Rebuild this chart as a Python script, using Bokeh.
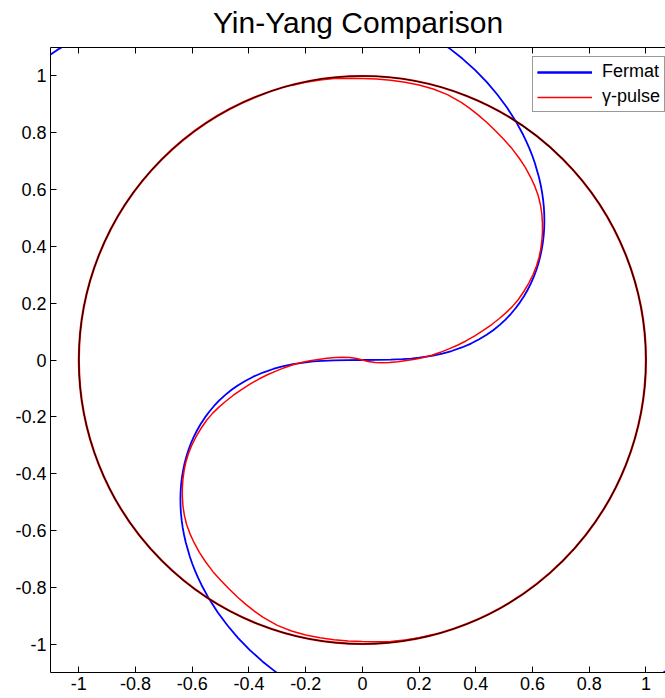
from bokeh.plotting import figure
from bokeh.models import Range1d, LinearAxis, FixedTicker, Legend, LegendItem, CustomLabelingPolicy
from bokeh.embed import file_html
from bokeh.resources import INLINE

# ---- data ----
circle_x = [0.0]
circle_y = [0.0]
circle_d = [2.0]

fermat_pos_x = [0.0, 0.05, 0.1, 0.1414, 0.1731, 0.1998, 0.2445, 0.2819, 0.3146, 0.3508, 0.3830, 0.4119,
                0.4383, 0.4624, 0.4845, 0.5047, 0.5233, 0.5402, 0.5557, 0.5698, 0.5825, 0.5939, 0.6040,
                0.6129, 0.6205, 0.6270, 0.6322, 0.6363, 0.6393, 0.6411, 0.6418, 0.6414, 0.6399, 0.6373,
                0.6337, 0.6289, 0.6231, 0.6085, 0.5996, 0.5897, 0.5788, 0.5670, 0.5403, 0.5099, 0.4757,
                0.4381, 0.3969, 0.3525, 0.3050, 0.2545, 0.2011, -0.8729, -0.9423, -1.0105, -1.0773,
                -1.1424, -1.2056]
fermat_pos_y = [0.0, 0.0001, 0.001, 0.0028, 0.0052, 0.0080, 0.0147, 0.0226, 0.0316, 0.0441, 0.0579, 0.0728,
                0.0888, 0.1058, 0.1237, 0.1424, 0.1619, 0.1820, 0.2029, 0.2243, 0.2463, 0.2688, 0.2918,
                0.3152, 0.3390, 0.3632, 0.3876, 0.4124, 0.4374, 0.4626, 0.4879, 0.5134, 0.5390, 0.5646,
                0.5903, 0.6160, 0.6416, 0.6926, 0.7180, 0.7431, 0.7681, 0.7928, 0.8415, 0.8888, 0.9347,
                0.9788, 1.0210, 1.0610, 1.0986, 1.1337, 1.1660, 1.1992, 1.1671, 1.1310, 1.0907,
                1.0464, 0.9982]

fermat_neg_x = [0.0, -0.05, -0.1, -0.1414, -0.1731, -0.1998, -0.2445, -0.2819, -0.3146, -0.3508, -0.3830, -0.4119,
                -0.4383, -0.4624, -0.4845, -0.5047, -0.5233, -0.5402, -0.5557, -0.5698, -0.5825, -0.5939, -0.6040,
                -0.6129, -0.6205, -0.6270, -0.6322, -0.6363, -0.6393, -0.6411, -0.6418, -0.6414, -0.6399, -0.6373,
                -0.6337, -0.6289, -0.6231, -0.6085, -0.5996, -0.5897, -0.5788, -0.5670, -0.5403, -0.5099, -0.4757,
                -0.4381, -0.3969, -0.3525, -0.3050, -0.2545, -0.2011, 0.8729, 0.9423, 1.0105, 1.0773,
                1.1424, 1.2056]
fermat_neg_y = [0.0, -0.0001, -0.001, -0.0028, -0.0052, -0.0080, -0.0147, -0.0226, -0.0316, -0.0441, -0.0579, -0.0728,
                -0.0888, -0.1058, -0.1237, -0.1424, -0.1619, -0.1820, -0.2029, -0.2243, -0.2463, -0.2688, -0.2918,
                -0.3152, -0.3390, -0.3632, -0.3876, -0.4124, -0.4374, -0.4626, -0.4879, -0.5134, -0.5390, -0.5646,
                -0.5903, -0.6160, -0.6416, -0.6926, -0.7180, -0.7431, -0.7681, -0.7928, -0.8415, -0.8888, -0.9347,
                -0.9788, -1.0210, -1.0610, -1.0986, -1.1337, -1.1660, -1.1992, -1.1671, -1.1310, -1.0907,
                -1.0464, -0.9982]

pulse_x = [-0.25, -0.20, -0.15, -0.10, -0.05, 0.00, 0.05, 0.10, 0.15, 0.20, 0.25, 0.30, 0.35, 0.38, 0.41,
           0.44, 0.47, 0.50, 0.527, 0.552, 0.575, 0.593, 0.608, 0.620, 0.628, 0.633, 0.635, 0.635, 0.633,
           0.629, 0.623, 0.614, 0.602, 0.587, 0.570, 0.550, 0.528, 0.505, 0.483, 0.455, 0.425, 0.395, 0.365,
           0.335, 0.305, 0.275, 0.245, 0.215, 0.185, 0.155, 0.125, 0.095, 0.070, 0.045, 0.020, 0.0,
           -0.020, -0.045, -0.070, -0.095, -0.125, -0.155, -0.185, -0.215, -0.245, -0.275, -0.305, -0.335,
           -0.365, -0.395, -0.425, -0.455, -0.483, -0.505, -0.528, -0.550, -0.570, -0.587, -0.602, -0.614,
           -0.623, -0.629, -0.633, -0.635, -0.635, -0.633, -0.628, -0.620, -0.608, -0.593, -0.575, -0.552,
           -0.527, -0.50, -0.47, -0.44, -0.41, -0.38, -0.35, -0.30, -0.25, -0.20, -0.15, -0.10, -0.05, 0.00,
           0.05, 0.10, 0.15, 0.20, 0.25]
pulse_y = [0.966, 0.978, 0.986, 0.991, 0.992, 0.991, 0.989, 0.985, 0.978, 0.968, 0.954, 0.934, 0.906, 0.885, 0.861,
           0.835, 0.806, 0.775, 0.745, 0.712, 0.677, 0.644, 0.612, 0.579, 0.546, 0.513, 0.480, 0.450, 0.420,
           0.390, 0.361, 0.331, 0.301, 0.271, 0.242, 0.213, 0.187, 0.165, 0.146, 0.124, 0.103, 0.084, 0.067,
           0.052, 0.039, 0.027, 0.017, 0.009, 0.003, -0.002, -0.006, -0.009, -0.010, -0.009, -0.005, 0.0,
           0.005, 0.009, 0.010, 0.009, 0.006, 0.002, -0.003, -0.009, -0.017, -0.027, -0.039, -0.052,
           -0.067, -0.084, -0.103, -0.124, -0.146, -0.165, -0.187, -0.213, -0.242, -0.271, -0.301, -0.331,
           -0.361, -0.390, -0.420, -0.450, -0.480, -0.513, -0.546, -0.579, -0.612, -0.644, -0.677, -0.712,
           -0.745, -0.775, -0.806, -0.835, -0.861, -0.885, -0.906, -0.934, -0.954, -0.968, -0.978, -0.985, -0.989, -0.991,
           -0.992, -0.991, -0.986, -0.978, -0.966]

tick_values = [-1, -0.8, -0.6, -0.4, -0.2, 0, 0.2, 0.4, 0.6, 0.8, 1]
tick_labels = ["-1", "-0.8", "-0.6", "-0.4", "-0.2", "0", "0.2", "0.4", "0.6", "0.8", "1"]

FONT = "Liberation Sans"

p = figure(width=665, height=698, output_backend="svg", toolbar_location=None,
           x_range=Range1d(-1.1, 1.069), y_range=Range1d(-1.1, 1.1),
           min_border_left=50, min_border_right=0, min_border_top=47, min_border_bottom=26)
p.outline_line_color = None
p.grid.visible = False
p.background_fill_color = "white"
p.border_fill_color = "white"

p.title.text = "Yin-Yang Comparison"
p.title.text_font = FONT
p.title.text_font_size = "30px"
p.title.text_font_style = "normal"
p.title.align = "center"
p.title.vertical_align = "top"
p.title.text_color = "black"
p.title.standoff = 6

overrides = {v: s for v, s in zip(tick_values, tick_labels)}

def style_axis(ax):
    ax.ticker = FixedTicker(ticks=tick_values)
    ax.major_label_overrides = overrides
    ax.major_tick_in = 6
    ax.major_tick_out = 0
    ax.minor_tick_line_color = None
    ax.axis_line_color = "black"
    ax.major_tick_line_color = "black"
    ax.major_label_text_font = FONT
    ax.major_label_text_color = "black"
    ax.major_label_text_font_size = "18px"
    ax.major_label_standoff = 4

style_axis(p.xaxis[0])
style_axis(p.yaxis[0])

top_axis = LinearAxis()
style_axis(top_axis)
top_axis.major_label_standoff = 0
top_axis.major_label_text_font_size = "1px"
top_axis.major_label_policy = CustomLabelingPolicy(code="""
if (typeof indices.unset === "function") {
    for (const i of Array.from(indices)) { indices.unset(i) }
    return indices
}
return []
""")
p.add_layout(top_axis, "above")

r_pos = p.line(fermat_pos_x, fermat_pos_y, line_color="#0000FF", line_width=1.8)
r_neg = p.line(fermat_neg_x, fermat_neg_y, line_color="#0000FF", line_width=1.8)
p.ellipse(x=circle_x, y=circle_y, width=circle_d, height=circle_d, fill_color=None,
          line_color="#FF0000", line_width=2.2)
r_pulse = p.line(pulse_x, pulse_y, line_color="#FF0000", line_width=1.5)
p.ellipse(x=circle_x, y=circle_y, width=circle_d, height=circle_d, fill_color=None,
          line_color="black", line_width=1.1)

legend = Legend(items=[LegendItem(label="Fermat", renderers=[r_pos, r_neg]),
                       LegendItem(label="γ-pulse", renderers=[r_pulse])],
                location=(482, 560))
legend.label_text_font = FONT
legend.label_text_font_size = "18px"
legend.label_text_color = "black"
legend.glyph_width = 55
legend.glyph_height = 20
legend.label_height = 20
legend.label_standoff = 10
legend.padding = 4
legend.spacing = 4
legend.margin = 0
legend.border_line_color = "#333333"
legend.border_line_width = 1
legend.background_fill_color = "white"
legend.background_fill_alpha = 1.0
p.add_layout(legend)

open("out.html", "w").write(file_html(p, INLINE))
